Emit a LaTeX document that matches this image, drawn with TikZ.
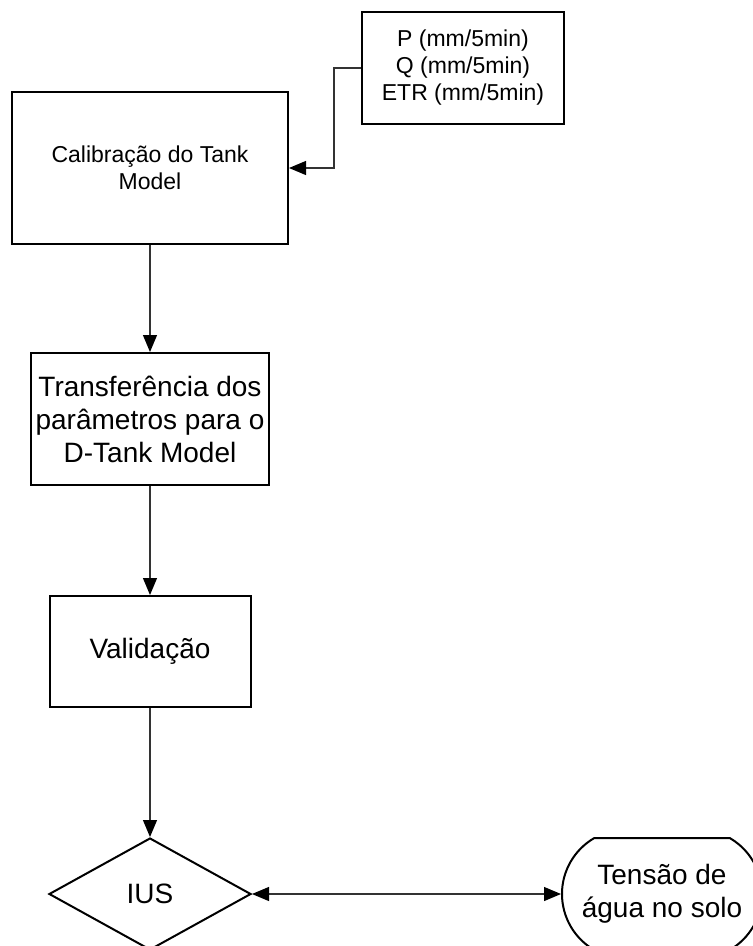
\documentclass[tikz,border=0pt]{standalone}
\usepackage{fontspec}
\setmainfont{Liberation Sans}
\usetikzlibrary{shapes.geometric,shapes.misc,arrows.meta}

\begin{document}
\begin{tikzpicture}[
            x=1pt, y=-1pt,
            box/.style={draw, line width=2pt, inner sep=0pt, align=center},
            arr/.style={-{Triangle[length=17pt,width=14pt,black]}, line width=1.2pt, draw=black!80},
            small/.style={font=\fontsize{23}{27}\selectfont},
            big/.style={font=\fontsize{28}{33}\selectfont}
        ]
            \clip (0,0) rectangle (753,946);

            \node [box,small,minimum width=202pt,minimum height=112pt] (dados) at (463,68) {P (mm/5min)\\Q (mm/5min)\\ETR (mm/5min)};
            \node [box,small,minimum width=276pt,minimum height=152pt] (calib) at (150,168) {Calibração do Tank\\Model};
            \node [box,big,minimum width=238pt,minimum height=132pt] (transf) at (150,419) {Transferência dos\\parâmetros para o\\D-Tank Model};
            \node [box,big,minimum width=201pt,minimum height=111pt] (valid) at (150,651.5) {Validação};
            \node [box,big,diamond,minimum width=202pt,minimum height=112pt] (ius) at (150,894) {IUS};
            \node [box,big,rounded rectangle,rounded rectangle arc length=120,minimum width=200pt,minimum height=112pt] (solo) at (662,894) {Tensão de\\água no solo};

            \coordinate (bend) at (334,68);

            \draw [arr] (dados.west) -- (bend) |- (calib.east);
            \foreach \a/\b in {calib/transf, transf/valid, valid/ius} {
                \draw [arr] (\a.south) -- (\b.north);
            }
            \draw [arr,{Triangle[length=17pt,width=14pt,black]}-{Triangle[length=17pt,width=14pt,black]}] (ius.east) -- (solo.west);
        \end{tikzpicture}
\end{document}
